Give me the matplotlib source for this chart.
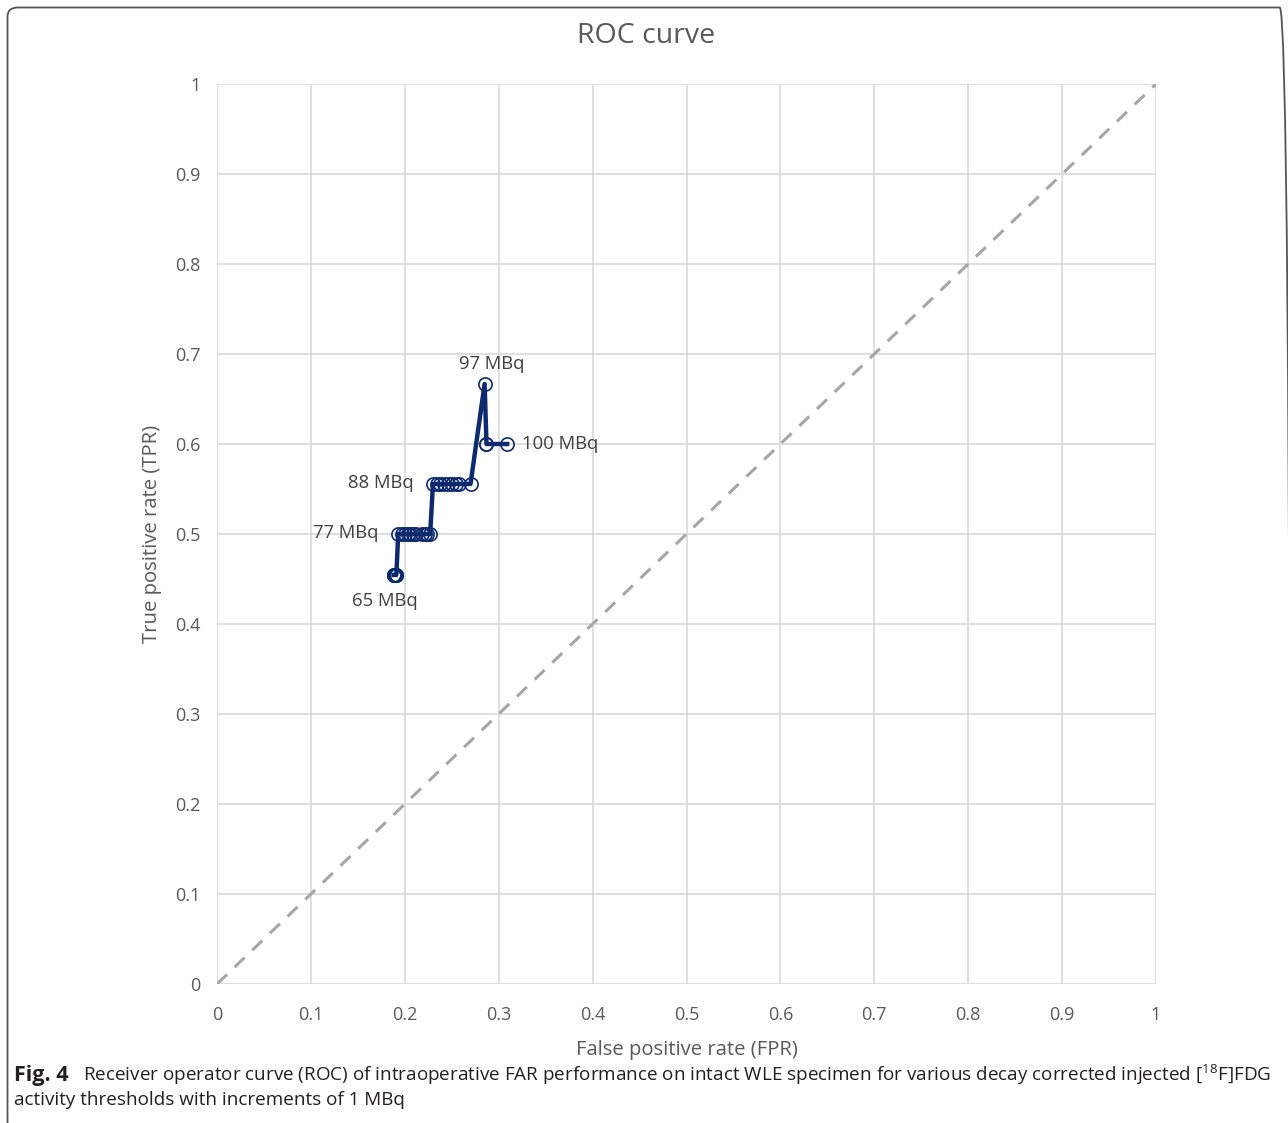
import matplotlib
matplotlib.use("Agg")
import matplotlib.pyplot as plt
from matplotlib.patches import FancyBboxPatch

plt.rcParams['font.family'] = ['Open Sans', 'DejaVu Sans']
plt.rcParams['mathtext.default'] = 'regular'

# Data: FPR / TPR for thresholds 65..100 MBq
thresholds = list(range(65, 101))
fpr = [0.188, 0.188, 0.189, 0.189, 0.189, 0.190, 0.190, 0.190, 0.191, 0.191, 0.191, 0.191,
       0.193, 0.197, 0.200, 0.203, 0.206, 0.209, 0.212, 0.218, 0.221, 0.224, 0.227,
       0.230, 0.234, 0.238, 0.242, 0.246, 0.250, 0.254, 0.258, 0.270,
       0.285, 0.287, 0.287, 0.309]
tpr = [0.4545] * 12 + [0.5] * 11 + [0.5556] * 9 + [0.6667, 0.6, 0.6, 0.6]
labeled = {65: "65 MBq", 77: "77 MBq", 88: "88 MBq", 97: "97 MBq", 100: "100 MBq"}
x_ticks = [0, 0.1, 0.2, 0.3, 0.4, 0.5, 0.6, 0.7, 0.8, 0.9, 1]
y_ticks = [0, 0.1, 0.2, 0.3, 0.4, 0.5, 0.6, 0.7, 0.8, 0.9, 1]
tick_labels = ["0", "0.1", "0.2", "0.3", "0.4", "0.5", "0.6", "0.7", "0.8", "0.9", "1"]

W, H = 1288, 1123
fig = plt.figure(figsize=(W / 100, H / 100), dpi=100)
ax = fig.add_axes([217 / W, 1 - 984 / H, (1156 - 217) / W, (984 - 84) / H])

text_col = '#595959'
navy = '#0E2A6E'

ax.plot([0, 1], [0, 1], color='#A6A6A6', lw=2.2, dashes=(4.5, 3.5), zorder=2)
ax.plot(fpr, tpr, color=navy, lw=3.2, marker='o', markersize=9.5,
        markerfacecolor='none', markeredgecolor=navy, markeredgewidth=1.2, zorder=3)

offsets = {65: (-6, -12, 'center', 'top'), 77: (-14, 1, 'right', 'center'),
           88: (-14, 1, 'right', 'center'), 97: (5, 8, 'center', 'bottom'),
           100: (11, 0, 'left', 'center')}
for t, x, y in zip(thresholds, fpr, tpr):
    if t in labeled:
        dx, dy, ha, va = offsets[t]
        ax.annotate(labeled[t], (x, y), xytext=(dx, dy), textcoords='offset points',
                    ha=ha, va=va, fontsize=13.3, color='#404040')

ax.set_xlim(0, 1)
ax.set_ylim(0, 1)
ax.set_xticks(x_ticks)
ax.set_yticks(y_ticks)
ax.set_xticklabels(tick_labels)
ax.set_yticklabels(tick_labels)
ax.tick_params(length=0, labelsize=13, labelcolor=text_col)
ax.tick_params(axis='x', pad=16)
ax.tick_params(axis='y', pad=12)
ax.grid(True, color='#D9D9D9', lw=1.2)
ax.set_axisbelow(True)
for s in ax.spines.values():
    s.set_visible(False)

ax.set_xlabel("False positive rate (FPR)", fontsize=14.6, color=text_col, labelpad=11)
ax.set_ylabel("True positive rate (TPR)", fontsize=14.6, color=text_col, labelpad=9)
fig.text(646 / W, 1 - 36 / H, "ROC curve", fontsize=20.5, color=text_col, ha='center', va='center')

# Caption
fig.text(14 / W, 1 - 1075 / H, "Fig. 4", fontsize=15.5, fontweight='bold', color='#231F20',
         ha='left', va='center')
fig.text(83 / W, 1 - 1075 / H,
         "Receiver operator curve (ROC) of intraoperative FAR performance on intact WLE specimen for various decay corrected injected [$^{18}$F]FDG",
         fontsize=13.6, color='#231F20', ha='left', va='center')
fig.text(14 / W, 1 - 1100 / H, "activity thresholds with increments of 1 MBq",
         fontsize=13.6, color='#231F20', ha='left', va='center')

# Border
box = FancyBboxPatch((7.5 / W, -0.05), (1290 - 7.5) / W, 1.05 - 7.5 / H,
                     boxstyle="round,pad=0,rounding_size=0.008",
                     transform=fig.transFigure, fill=False, ec='#555555', lw=1.3,
                     clip_on=False)
fig.patches.append(box)

fig.savefig("out.png", dpi=100)
